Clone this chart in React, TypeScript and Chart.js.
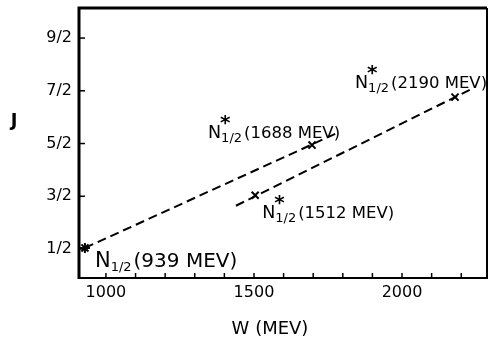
import React, { useEffect, useRef } from "react";
import { Chart, registerables } from "chart.js";

Chart.register(...registerables);

// Resonance positions (W in MeV, J)
const markerW = [929, 1504, 1696, 2179];
const markerJ = [0.52, 1.52, 2.47, 3.38];
const stateMeV = ["939", "1512", "1688", "2190"];
const stateStar = [false, true, true, true];

// Dashed trajectory lines
const lineAW = [929, 1781];
const lineAJ = [0.52, 2.7];
const lineBW = [1439, 2240];
const lineBJ = [1.32, 3.55];

// Axes
const xTickValues = [1000, 1100, 1200, 1300, 1400, 1500, 1600, 1700, 1800, 1900, 2000, 2100, 2200];
const xTickLabels: Record<number, string> = { 1000: "1000", 1500: "1500", 2000: "2000" };
const yTickValues = [0.5, 1.5, 2.5, 3.5, 4.5];
const yTickLabels = ["1/2", "3/2", "5/2", "7/2", "9/2"];
const xTitle = "W (MEV)";
const yTitle = "J";

const FONT = "'DejaVu Sans', sans-serif";

const zeroPad = (s: any) => {
  s.paddingTop = 0;
  s.paddingBottom = 0;
  s.paddingLeft = 0;
  s.paddingRight = 0;
};

const decorPlugin = {
  id: "decor",
  afterDraw(chart: any) {
    const ctx = chart.ctx as CanvasRenderingContext2D;
    const a = chart.chartArea;
    const xs = chart.scales.x;
    const ys = chart.scales.y;
    ctx.save();
    ctx.strokeStyle = "#000";
    ctx.fillStyle = "#000";
    ctx.lineCap = "butt";
    // frame
    ctx.lineWidth = 3;
    ctx.beginPath();
    ctx.moveTo(a.left, a.bottom + 1);
    ctx.lineTo(a.left, a.top);
    ctx.lineTo(a.right, a.top);
    ctx.stroke();
    ctx.lineWidth = 2;
    ctx.beginPath();
    ctx.moveTo(a.right, a.top);
    ctx.lineTo(a.right, a.bottom);
    ctx.lineTo(a.left, a.bottom);
    ctx.stroke();
    // inward tick marks
    ctx.lineWidth = 1.5;
    for (const t of xs.ticks) {
      const px = xs.getPixelForValue(t.value);
      ctx.beginPath();
      ctx.moveTo(px, a.bottom);
      ctx.lineTo(px, a.bottom - 5);
      ctx.stroke();
    }
    for (const t of ys.ticks) {
      const py = ys.getPixelForValue(t.value);
      ctx.beginPath();
      ctx.moveTo(a.left, py);
      ctx.lineTo(a.left + 6, py);
      ctx.stroke();
    }
    // axis titles
    ctx.textAlign = "center";
    ctx.textBaseline = "middle";
    ctx.font = `18px ${FONT}`;
    ctx.fillText(xTitle, 270, 329);
    ctx.font = `bold 18px ${FONT}`;
    ctx.fillText(yTitle, 14, 121);

    // state labels
    const offs = [
      { dx: 10, dy: 19, size: 20 },
      { dx: 7, dy: 23, size: 16.5 },
      { dx: -104, dy: -7, size: 16.5 },
      { dx: -100, dy: -9, size: 16.5 },
    ];
    ctx.textAlign = "left";
    ctx.textBaseline = "alphabetic";
    for (let i = 0; i < markerW.length; i++) {
      const o = offs[i];
      const mx = xs.getPixelForValue(markerW[i]);
      const my = ys.getPixelForValue(markerJ[i]);
      const x = mx + o.dx;
      const y = my + o.dy;
      ctx.font = `${o.size + 1}px ${FONT}`;
      ctx.fillText("N", x, y);
      const wN = ctx.measureText("N").width;
      if (stateStar[i]) {
        ctx.font = `bold 20px ${FONT}`;
        const capTop = y - 0.73 * (o.size + 1);
        ctx.fillText("*", x + wN - 1, capTop - 8 + 0.59 * 20);
      }
      const subSize = 13;
      ctx.font = `${subSize}px ${FONT}`;
      ctx.fillText("1/2", x + wN, y + 4);
      const wSub = ctx.measureText("1/2").width;
      ctx.font = `${o.size}px ${FONT}`;
      ctx.fillText(`(${stateMeV[i]} MEV)`, x + wN + wSub + 2, y);
    }
    ctx.restore();
  },
};

export default function App() {
  const ref = useRef<HTMLCanvasElement | null>(null);
  useEffect(() => {
    if (!ref.current) return;
    const lineStyle = {
      showLine: true,
      borderColor: "#000",
      borderWidth: 2,
      borderDash: [9, 5],
      pointRadius: 0,
      fill: false,
    };
    const chart = new Chart(ref.current, {
      type: "scatter",
      data: {
        datasets: [
          { ...lineStyle, data: lineAW.map((w, i) => ({ x: w, y: lineAJ[i] })) },
          { ...lineStyle, data: lineBW.map((w, i) => ({ x: w, y: lineBJ[i] })) },
          {
            data: markerW.map((w, i) => ({ x: w, y: markerJ[i] })),
            pointStyle: markerW.map((_, i) => (stateStar[i] ? "crossRot" : "star")) as any,
            pointRadius: 5,
            borderColor: "#000",
            backgroundColor: "#000",
            pointBorderWidth: 2,
            showLine: false,
          },
        ],
      },
      options: {
        animation: false,
        responsive: false,
        layout: { autoPadding: false, padding: { top: 8, right: 1, left: 0, bottom: 0 } },
        plugins: { legend: { display: false }, tooltip: { enabled: false } },
        scales: {
          x: {
            type: "linear",
            min: 909,
            max: 2287,
            afterBuildTicks: (s: any) => {
              s.ticks = xTickValues.map((v) => ({ value: v }));
            },
            afterFit: (s: any) => {
              s.height = 63;
              zeroPad(s);
            },
            border: { display: false },
            grid: { display: false, drawTicks: true, tickLength: 5 },
            ticks: {
              autoSkip: false,
              maxRotation: 0,
              padding: 0,
              color: "#000",
              font: { family: FONT, size: 16 },
              callback: (v: any) => xTickLabels[v as number] ?? "",
            },
          },
          y: {
            type: "linear",
            min: -0.05,
            max: 5.07,
            afterBuildTicks: (s: any) => {
              s.ticks = yTickValues.map((v) => ({ value: v }));
            },
            afterFit: (s: any) => {
              s.width = 79;
              zeroPad(s);
            },
            border: { display: false },
            grid: { display: false, drawTicks: true, tickLength: 7 },
            ticks: {
              autoSkip: false,
              padding: 0,
              color: "#000",
              font: { family: FONT, size: 16 },
              callback: (v: any) => {
                const k = yTickValues.indexOf(v as number);
                return k >= 0 ? yTickLabels[k] : "";
              },
            },
          },
        },
      },
      plugins: [decorPlugin],
    });
    return () => chart.destroy();
  }, []);
  return (
    <div style={{ position: "absolute", left: 0, top: 0, width: 488, height: 341, background: "#fff" }}>
      <canvas ref={ref} width={488} height={341} />
    </div>
  );
}
